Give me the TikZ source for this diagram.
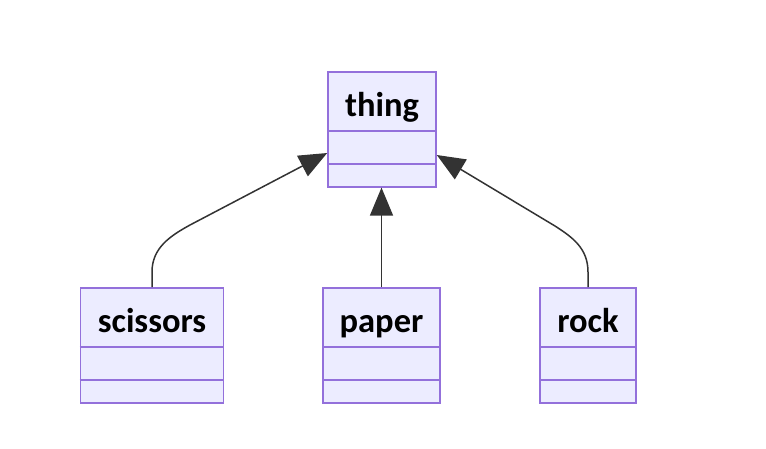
\documentclass[tikz,border=0pt]{standalone}
\usepackage{fontspec}
\setmainfont{Carlito}
\usetikzlibrary{arrows.meta,calc}
\definecolor{boxfill}{HTML}{ECECFF}
\definecolor{boxline}{HTML}{9370DB}
\definecolor{edge}{HTML}{333333}
\tikzset{
  classbox/.style={draw=boxline,fill=boxfill,line width=1.6pt,minimum width=#1,minimum height=115pt,inner sep=0pt},
  divider/.style={draw=boxline,line width=1.6pt},
  title/.style={font=\bfseries\fontsize{34.5}{34.5}\selectfont,text=black,inner sep=0pt,anchor=base},
  inherit/.style={draw=edge,line width=1.5pt,-{Triangle[length=28pt,width=23pt]}}
}
\begin{document}
\begin{tikzpicture}[x=1pt,y=-1pt]
\useasboundingbox (0,0) rectangle (766,448);
% class boxes (x-center, top at y)
\node[classbox=108pt,anchor=north] (thing) at (382,71) {};
\node[classbox=143pt,anchor=north] (scissors) at (152,287) {};
\node[classbox=117pt,anchor=north] (paper) at (381.5,287) {};
\node[classbox=96pt,anchor=north] (rock) at (588,287) {};
% dividers
\foreach \n in {thing,scissors,paper,rock}{
  \draw[divider] ($(\n.north west)+(0,60)$) -- ($(\n.north east)+(0,60)$);
  \draw[divider] ($(\n.north west)+(0,93)$) -- ($(\n.north east)+(0,93)$);
}
% titles
\node[title] (tthing) at ($(thing.north)+(0,45)$) {thing};
\node[title] (tscissors) at ($(scissors.north)+(0,45)$) {scissors};
\node[title] (tpaper) at ($(paper.north)+(0,45)$) {paper};
\node[title] (trock) at ($(rock.north)+(0,45)$) {rock};
% inheritance edges
\draw[inherit] (scissors.north) -- ++(0,-15) .. controls ++(0,-24) and ($(scissors.north)+(18,-51)$) .. ($(scissors.north)+(38,-62)$) -- ($(thing.north west)+(0,82)$);
\draw[inherit] (paper.north) -- (paper.north |- thing.south);
\draw[inherit] (rock.north) -- ++(0,-15) .. controls ++(0,-24) and ($(rock.north)+(-16,-50)$) .. ($(rock.north)+(-33,-61)$) -- ($(thing.north east)+(0,84)$);
\end{tikzpicture}
\end{document}
